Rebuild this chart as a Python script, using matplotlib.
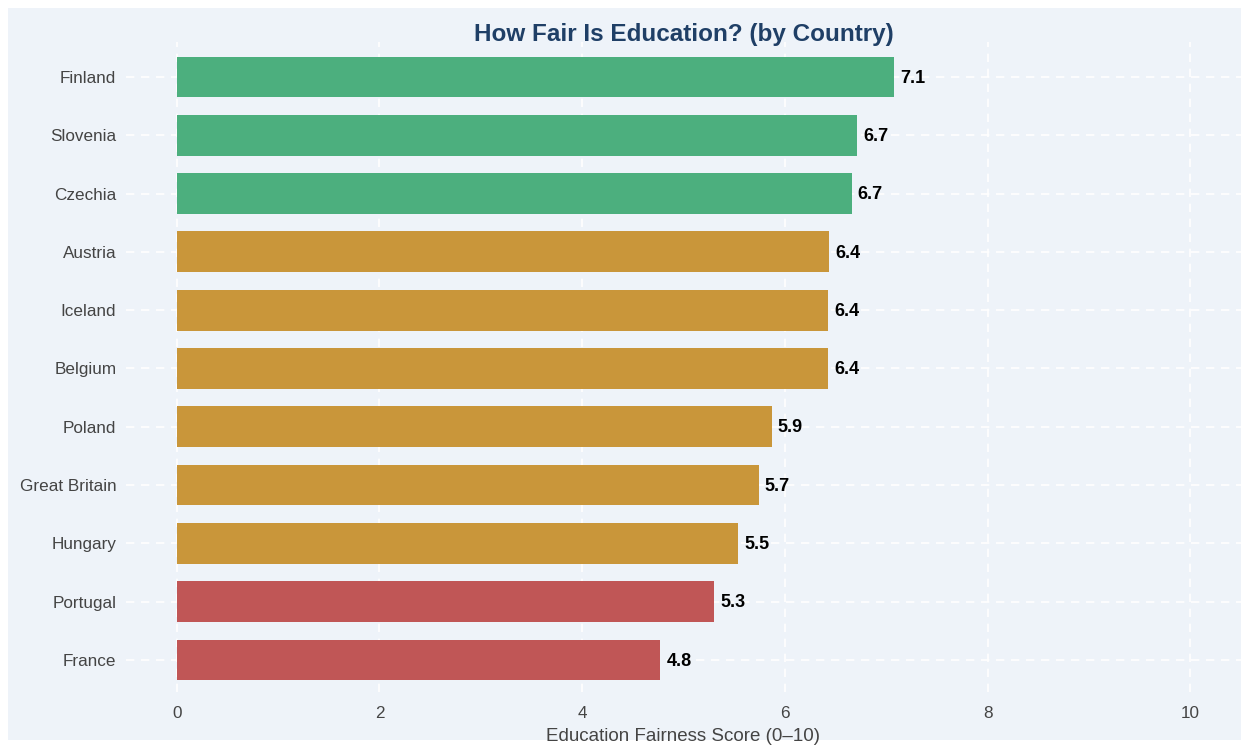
import matplotlib.pyplot as plt
from matplotlib.patches import Rectangle

plt.rcParams['font.family'] = ['Liberation Sans', 'DejaVu Sans']

# data (top to bottom)
countries = ['Finland', 'Slovenia', 'Czechia', 'Austria', 'Iceland', 'Belgium',
             'Poland', 'Great Britain', 'Hungary', 'Portugal', 'France']
scores = [7.08, 6.71, 6.66, 6.44, 6.43, 6.43, 5.87, 5.74, 5.54, 5.30, 4.77]

bg = '#eef3f9'


def bar_color(v):
    if v >= 6.5:
        return '#4caf7e'
    if v >= 5.5:
        return '#c9963a'
    return '#c05656'


fig = plt.figure(figsize=(12.49, 7.48), dpi=100, facecolor='white')
fig.patches.append(Rectangle((8 / 1249, 8 / 748), 1233 / 1249, 732 / 748,
                             transform=fig.transFigure, facecolor=bg,
                             edgecolor='none', zorder=-1))
ax = fig.add_axes([126 / 1249, 56 / 748, 1115 / 1249, 650 / 748])
ax.set_facecolor(bg)

n = len(countries)
ypos = [n - 1 - i for i in range(n)]
ax.barh(ypos, scores, height=0.7, color=[bar_color(v) for v in scores], zorder=2)

for y, v in zip(ypos, scores):
    ax.text(v + 0.06, y - 0.02, f'{v:.1f}', va='center', ha='left',
            fontsize=13, fontweight='bold', color='black', zorder=3)

ax.set_yticks(ypos)
ax.set_yticklabels(countries, fontsize=12.3, color='#444444')
ax.set_xticks([0, 2, 4, 6, 8, 10])
ax.tick_params(axis='x', labelsize=12.3, labelcolor='#444444', length=0, pad=10)
ax.tick_params(axis='y', length=0, pad=7)
ax.set_xlim(-0.5, 10.5)
ax.set_ylim(-0.55, 10.6)

ax.grid(True, color='white', linestyle=(0, (5, 4)), linewidth=1.2, zorder=0)
ax.set_axisbelow(True)
for s in ax.spines.values():
    s.set_visible(False)

ax.set_xlabel('Education Fairness Score (0\u201310)', fontsize=13.5,
              color='#444444', labelpad=5)
ax.set_title('How Fair Is Education? (by Country)', fontsize=17.5,
             fontweight='bold', color='#1f3f66', y=1.0, pad=0.5)

fig.savefig('out.png', dpi=100, facecolor='white')
